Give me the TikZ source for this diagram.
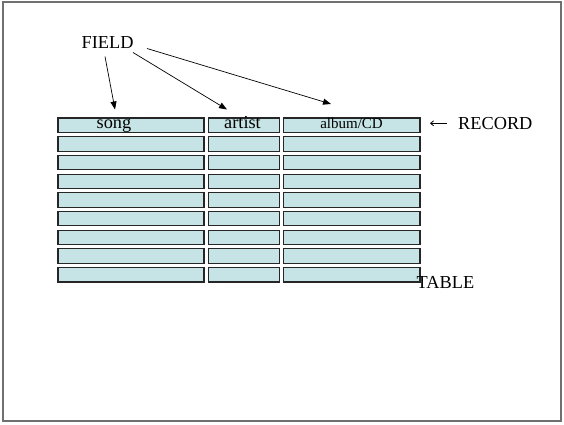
\documentclass[tikz,border=0pt]{standalone}
\usepackage{fontspec}
\setmainfont{Liberation Serif}
\usetikzlibrary{arrows.meta}
\definecolor{cellfill}{HTML}{C6E4E6}
\definecolor{framegray}{HTML}{707070}
\begin{document}
\begin{tikzpicture}[x=1pt,y=-1pt,
  cell/.style={draw=black!85, fill=cellfill, line width=1.1pt},
  lbl/.style={inner sep=0pt, font=\fontsize{18.3}{18}\selectfont},
  small/.style={inner sep=0pt, font=\fontsize{15}{15}\selectfont},
  ptr/.style={-{Triangle[length=8pt,width=6pt]}, line width=0.7pt},
  recptr/.style={-{Straight Barb[length=3pt,width=5pt]}, line width=0.8pt}]
\useasboundingbox (0,0) rectangle (564,424);
% slide frame
\draw[framegray, line width=1.3pt] (3,2) rectangle (561,421);

% table: nine records of three fields
\foreach \i in {0,...,8} {
  \pgfmathsetmacro\top{118+18.7*\i}
  \draw[cell] (58,\top) rectangle (204,\top+14.4);
  \draw[cell] (208.5,\top) rectangle (279.5,\top+14.4);
  \draw[cell] (283.5,\top) rectangle (420,\top+14.4);
}

% field names in the first record
\node[lbl, anchor=base] (song) at (114,128.5) {song};
\node[lbl, anchor=base] (artist) at (242.5,128.5) {artist};
\node[small, anchor=base] (album) at (351.5,128.3) {album/CD};

% labels
\node[lbl, anchor=base west] (field) at (81.5,48) {FIELD};
\node[lbl, anchor=base west] (record) at (458,129.3) {RECORD};
\node[lbl, anchor=base west] (table) at (416.5,288) {TABLE};

% arrows from FIELD to the field names
\coordinate (f1) at (105,56.5);
\coordinate (f2) at (133,52.5);
\coordinate (f3) at (147,48.5);
\coordinate (t1) at (115,109.5);
\coordinate (t2) at (227,109.5);
\coordinate (t3) at (331,104);
\draw[ptr] (f1) -- (t1);
\draw[ptr] (f2) -- (t2);
\draw[ptr] (f3) -- (t3);

% arrow from RECORD to the first record
\coordinate (r0) at (447,123.3);
\coordinate (r1) at (430,123.3);
\draw[recptr] (r0) -- (r1);
\end{tikzpicture}
\end{document}
